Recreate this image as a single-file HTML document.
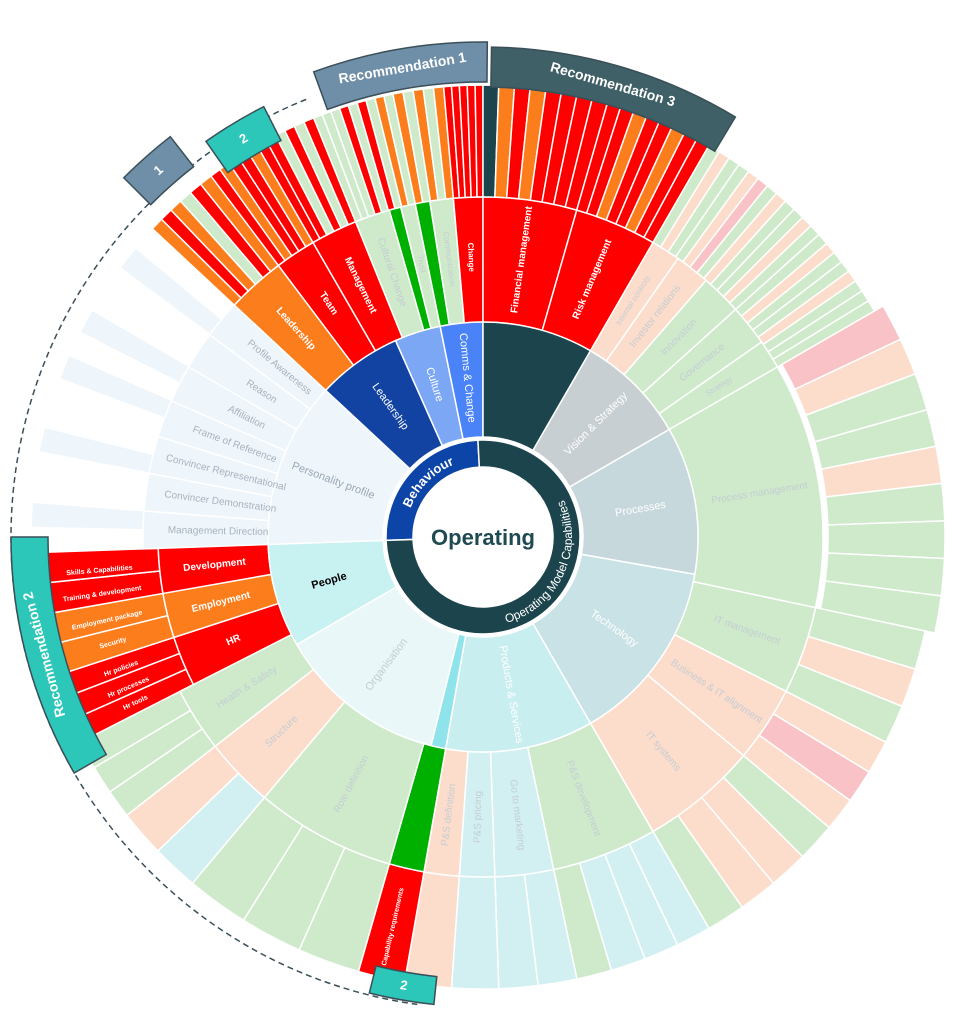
<!DOCTYPE html>
<html><head><meta charset="utf-8">
<style>
html,body{margin:0;padding:0;background:#fff;}
svg{display:block;font-family:"Liberation Sans",sans-serif;}
</style></head>
<body>
<svg id="s" width="956" height="1023" viewBox="0 0 956 1023" xmlns="http://www.w3.org/2000/svg">
<defs>
<path id="omc" d="M 490.8 625.7 A 89 89 0 0 0 555.9 486"/>
<path id="beh" d="M 406.2 523.5 A 78 78 0 0 1 469.5 460.2"/>
</defs>
</svg>
<script>
const S=document.getElementById('s');const NS='http://www.w3.org/2000/svg';
const cx=483,cy=537;
function pt(r,a){const t=a*Math.PI/180;return [cx+r*Math.sin(t),cy-r*Math.cos(t)];}
function seg(r0,r1,a0,a1,fill,stroke){
 const p1=pt(r1,a0),p2=pt(r1,a1),p3=pt(r0,a1),p4=pt(r0,a0);const l=(a1-a0)>180?1:0;
 const e=document.createElementNS(NS,'path');
 e.setAttribute('d',`M${p1[0]},${p1[1]} A${r1},${r1} 0 ${l} 1 ${p2[0]},${p2[1]} L${p3[0]},${p3[1]} A${r0},${r0} 0 ${l} 0 ${p4[0]},${p4[1]} Z`);
 e.setAttribute('fill',fill);e.setAttribute('stroke',stroke||'#fff');e.setAttribute('stroke-width','1.5');S.appendChild(e);}
function txt(t,a,r,col,size,mode,weight){
 const p=pt(r,a);let rot;
 let na=((a%360)+360)%360;
 if(mode==='rad'){rot=(na<180)?na-90:na+90;}else if(mode==='up'){rot=na;}else{rot=(na>90&&na<270)?na+180:na;}
 const e=document.createElementNS(NS,'text');
 e.setAttribute('x',p[0]);e.setAttribute('y',p[1]);e.setAttribute('fill',col);e.setAttribute('font-size',size);
 e.setAttribute('text-anchor','middle');e.setAttribute('dominant-baseline','middle');
 if(weight)e.setAttribute('font-weight',weight);
 e.setAttribute('transform',`rotate(${rot} ${p[0]} ${p[1]})`);e.textContent=t;S.appendChild(e);}
const R='#ff0000',O='#fb7d1c',G='#cfeacb',LO='#fcdccb',LC='#d2f0f2',P='#f9c2c6',BG='#00b000',DT='#1b444c',PB='#eef5fb',W='#ffffff';
function leaves(a0,a1,cols,r0,r1){const n=cols.length,d=(a1-a0)/n;cols.forEach((c,i)=>seg(r0||340,r1||452,a0+i*d,a0+(i+1)*d,c));}

(function(){const r=472;const p1=pt(r,-22),p2=pt(r,188);
 const e=document.createElementNS(NS,'path');e.setAttribute('d',`M${p1[0]},${p1[1]} A${r},${r} 0 0 0 ${p2[0]},${p2[1]}`);
 e.setAttribute('fill','none');e.setAttribute('stroke','#3a4f58');e.setAttribute('stroke-width','1.5');e.setAttribute('stroke-dasharray','6 4');S.appendChild(e);})();

leaves(-92,-47,[W,PB,W,W,PB,W,W,PB,W,PB,W,W,PB,W]);
leaves(-47,-37,[O,R,O,G,R,O]);
leaves(-37,-30,[R,O,R,R,O]);
leaves(-30,-22,[R,R,G,R,G,R]);
leaves(-22,-11.5,[G,G,G,R,G,R,G,O,G]);
leaves(-11.5,-5,[O,G,O,G,O]);
leaves(-5,0,[R,R,R,R,R]);
leaves(0,16,[DT,O,R,O,R,R,R,R],340,452);
leaves(16,30,[R,R,O,R,R,O,R,R]);
leaves(30,60,[G,LO,G,G,LO,P,G,LO,G,G,LO,G,G,LO,G,G,LO,G,G,G]);
leaves(60,102,[P,LO,G,G,LO,G,G,G,G],345,462);
leaves(102,117,[G,LO,G]);
leaves(117,130,[LO,P,LO]);
leaves(130,150,[G,LO,LO,G]);
leaves(150,168,[LC,LC,LC,G]);
leaves(168,178,[LC,LC]);
leaves(178,184,[LC]);
leaves(184,190,[LO]);
leaves(190,196,[R]);
leaves(196,220,[G,G,G]);
leaves(220,232,[LC,LO]);
leaves(232,243,[G,G,G]);
leaves(243,252,[R,R,R],325,437);
leaves(252,260,[O,O],325,437);
leaves(260,268,[R,R],325,437);

const r3=[
[-92,-85.6,PB,'Management Direction'],[-85.6,-79.2,PB,'Convincer Demonstration'],[-79.2,-72.8,PB,'Convincer Representational'],
[-72.8,-66.4,PB,'Frame of Reference'],[-66.4,-60,PB,'Affiliation'],[-60,-53.5,PB,'Reason'],[-53.5,-47,PB,'Profile Awareness'],
[-47,-37,O,'Leadership'],[-37,-30,R,'Team'],[-30,-22,R,'Management'],[-22,-16,G,'Cultural Change'],[-16,-14,BG,''],
[-14,-11.5,G,'Trust'],[-11.5,-9,BG,''],[-9,-5,G,'Communication'],[-5,0,R,'Change'],
[0,16,R,'Financial management'],[16,30,R,'Risk management'],[30,35,LO,'Internal controls'],[35,41,LO,'Investor relations'],
[41,48,G,'Innovation'],[48,55,G,'Governance'],[55,60,G,'Strategy'],[60,102,G,'Process management'],
[102,117,G,'IT management'],[117,130,LO,'Business & IT alignment'],[130,150,LO,'IT systems'],[150,168,G,'P&S development'],
[168,178,LC,'Go to marketing'],[178,184,LC,'P&S pricing'],[184,190,LO,'P&S definition'],[190,196,BG,''],
[196,220,G,'Role definition'],[220,232,LO,'Structure'],[232,243,G,'Health & Safety'],[243,252,R,'HR'],[252,260,O,'Employment'],[260,268,R,'Development']];
r3.forEach(s=>{const outer=(s[0]>=243)?325:340;seg(215,outer,s[0],s[1],s[2]);});

const r2=[[-92,-47,'#eef5fb','Personality profile','#9aa8b4'],[-47,-24,'#1243a3','Leadership','#fff'],[-24,-11.5,'#7ba7f5','Culture','#fff'],
[-11.5,0,'#4a82f7','Comms & Change','#fff'],[0,30,DT,'',''],[30,60,'#c8cfd2','Vision & Strategy','#fff'],[60,100,'#c6d8dc','Processes','#fff'],
[100,150,'#c9e2e5','Technology','#fff'],[150,190,'#c9eef0','Products & Services','#fff'],[190,194,'#8fe3ea','',''],
[194,240,'#eaf7f8','Organisation','#c0cfd3'],[240,268,'#c8f1f1','People','#000']];
r2.forEach(s=>seg(100,215,s[0],s[1],s[2]));
seg(70,97,-92,-3,'#0c44a8');seg(70,97,-3,268,DT);
const c=document.createElementNS(NS,'circle');c.setAttribute('cx',cx);c.setAttribute('cy',cy);c.setAttribute('r',69);c.setAttribute('fill','#fff');S.appendChild(c);

r2.forEach(s=>{if(!s[3])return;const a=(s[0]+s[1])/2;txt(s[3],a,160,s[4],11,'rad',(s[3]==='People'?'bold':null));});
r3.forEach(s=>{if(!s[3])return;const a=(s[0]+s[1])/2;
 let col=(s[2]===R||s[2]===O)?'#fff':'#c4cdd3';if(s[2]===PB)col='#a9b3bd';
 const r=(s[0]>=243)?270:(s[0]<-47?265:280);
 let size=(s[1]-s[0])<6?8:10;
 const w=(s[2]===R||s[2]===O)?'bold':null;
 txt(s[3],a,r,col,size,'rad',w);
});
[['Skills & Capabilities',265],['Training & development',261.5],['Employment package',257.5],['Security',254],['Hr policies',250],['Hr processes',247],['Hr tools',244.5]].forEach(l=>txt(l[0],l[1],385,'#fff',7,'rad','bold'));
txt('Capability requirements',193,400,'#fff',7,'rad','bold');

const t=document.createElementNS(NS,'text');t.setAttribute('x',cx);t.setAttribute('y',cy+8);t.setAttribute('text-anchor','middle');
t.setAttribute('font-size','22');t.setAttribute('font-weight','bold');t.setAttribute('fill','#1f4a52');t.textContent='Operating';S.appendChild(t);
S.insertAdjacentHTML('beforeend',`<text font-size="12" fill="#fff"><textPath href="#omc" startOffset="50%" text-anchor="middle">Operating Model Capabilities</textPath></text>
<text font-size="13" fill="#fff" font-weight="bold"><textPath href="#beh" startOffset="50%" text-anchor="middle">Behaviour</textPath></text>`);

function banner(r0,r1,a0,a1,fill,label,size,mode){seg(r0,r1,a0,a1,fill,'#3a4f58');txt(label,(a0+a1)/2,(r0+r1)/2,'#fff',size,mode||'tan','bold');}
banner(455,495,-20,0.5,'#6f8fa8','Recommendation 1',14);
banner(450,490,1,31,'#3f6066','Recommendation 3',14);
banner(445,483,-35,-27,'#2cc7b9','2',13);
banner(470,508,-45,-38,'#6f8fa8','1',13);
banner(435,472,240,270,'#2cc7b9','Recommendation 2',14,'up');
banner(442,470,186,194,'#2cc7b9','2',13);
</script>
</body></html>
